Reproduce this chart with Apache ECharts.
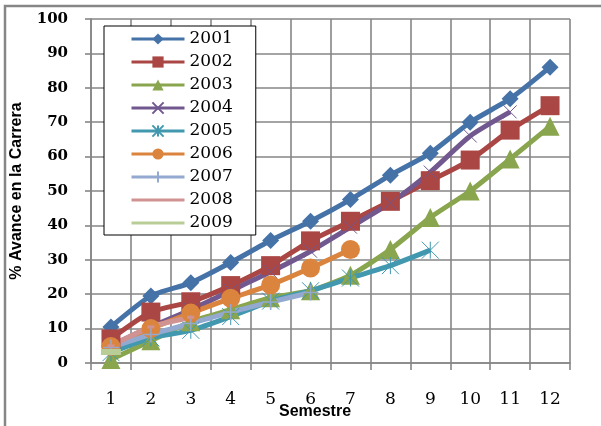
<!DOCTYPE html>
<html>
<head>
<meta charset="utf-8">
<script src="https://cdn.jsdelivr.net/npm/echarts@6/dist/echarts.min.js"></script>
<style>
  html, body { margin: 0; padding: 0; background: #fff; }
  #chart { width: 601px; height: 426px; }
</style>
</head>
<body>
<div id="chart"></div>
<script>
// Semesters on the x axis
const semestres = ['1', '2', '3', '4', '5', '6', '7', '8', '9', '10', '11', '12'];

// Cumulative career progress (%) per cohort
const avance2001 = [10.5, 19.5, 23.3, 29.2, 35.6, 41.2, 47.5, 54.6, 61, 70, 76.8, 86];
const avance2002 = [7, 14.8, 17.8, 22.5, 28.3, 35.5, 41.2, 47, 53, 59, 67.7, 74.8];
const avance2003 = [1, 6.5, 12, 15.5, 19, 21, 25.5, 33, 42.3, 50, 59.3, 68.8];
const avance2004 = [5, 10.5, 15.5, 21, 26.5, 32.5, 39.5, 46.5, 55.5, 66, 73];
const avance2005 = [3, 7.3, 9.5, 13.5, 18, 21, 24.7, 28.3, 32.8];
const avance2006 = [4.8, 10, 14.5, 18.8, 22.7, 27.6, 33];
const avance2007 = [4.5, 8.3, 11.5, 14.8, 17.7, 20.5];
const avance2008 = [5, 10.5, 13.3];
const avance2009 = [3.2];

const cohortes = ['2001', '2002', '2003', '2004', '2005', '2006', '2007', '2008', '2009'];
const valores = [avance2001, avance2002, avance2003, avance2004, avance2005,
                 avance2006, avance2007, avance2008, avance2009];

const colores = ['#4572A7', '#AA4643', '#89A54E', '#71588F', '#4198AF',
                 '#DB843D', '#93A9CF', '#D19392', '#B9CD96'];

// marker shape, size and stroke for each cohort
const marcadores = [
  { symbol: 'diamond', size: 17, border: 0 },
  { symbol: 'rect', size: 19, border: 0 },
  { symbol: 'triangle', size: 19, border: 0 },
  { symbol: 'path://M0,0L10,10M10,0L0,10', size: 13, border: 1 },
  { symbol: 'path://M5,0L5,10M0,0L10,10M10,0L0,10', size: 17, border: 1 },
  { symbol: 'circle', size: 19, border: 0 },
  { symbol: 'path://M5,0L5,10M0,5L10,5', size: 16, border: 1.5 },
  { symbol: 'rect', size: [7, 3], border: 0 },
  { symbol: 'rect', size: [20, 6], border: 0 }
];

// cohorts whose legend entry shows only the line
const leyendaSoloLinea = ['2008', '2009'];

const series = cohortes.map((name, i) => ({
  name: name,
  type: 'line',
  data: valores[i],
  smooth: 0.2,
  symbol: marcadores[i].symbol,
  symbolSize: marcadores[i].size,
  showAllSymbol: true,
  color: colores[i],
  lineStyle: { width: 5, color: colores[i] },
  itemStyle: {
    color: colores[i],
    borderColor: colores[i],
    borderWidth: marcadores[i].border
  },
  emphasis: { disabled: true }
}));

const chart = echarts.init(document.getElementById('chart'), null, { renderer: 'canvas' });

const grisEje = '#868686';

chart.setOption({
  animation: false,
  backgroundColor: '#ffffff',
  grid: { left: 91, right: 31, top: 19, bottom: 63, containLabel: false },
  legend: {
    data: cohortes.map((n) => leyendaSoloLinea.includes(n)
      ? { name: n, itemStyle: { color: 'transparent', borderWidth: 0 } }
      : { name: n }),
    orient: 'vertical',
    left: 104,
    top: 26,
    padding: [4, 23, 3, 26],
    itemGap: 5,
    itemWidth: 53,
    itemHeight: 14,
    lineStyle: { width: 3 },
    backgroundColor: '#ffffff',
    borderColor: '#000000',
    borderWidth: 1,
    textStyle: { fontFamily: 'DejaVu Serif', fontSize: 17, lineHeight: 18, color: '#000' },
    selectedMode: false
  },
  xAxis: {
    type: 'category',
    data: semestres,
    boundaryGap: true,
    axisLine: { lineStyle: { color: grisEje, width: 1.6 } },
    axisTick: { show: true, length: 7, lineStyle: { color: grisEje, width: 1.6 } },
    splitLine: { show: true, lineStyle: { color: grisEje, width: 1.6 } },
    axisLabel: { margin: 28, fontFamily: 'DejaVu Serif', fontSize: 17, color: '#000' }
  },
  yAxis: {
    type: 'value',
    min: 0,
    max: 100,
    interval: 10,
    name: '% Avance en la Carrera',
    nameLocation: 'middle',
    nameGap: 66,
    nameTextStyle: { fontFamily: 'Liberation Sans', fontWeight: 'bold', fontSize: 16, color: '#000' },
    axisLine: { show: true, lineStyle: { color: grisEje, width: 1.6 } },
    axisTick: { show: true, length: 6, lineStyle: { color: grisEje, width: 1.6 } },
    splitLine: { show: true, lineStyle: { color: grisEje, width: 1.6 } },
    axisLabel: { margin: 23, fontFamily: 'DejaVu Serif', fontWeight: 'bold', fontSize: 15, color: '#000' }
  },
  graphic: [
    {
      type: 'rect',
      shape: { x: 5, y: 6, width: 610, height: 430 },
      style: { fill: 'none', stroke: grisEje, lineWidth: 2.5 },
      silent: true
    },
    {
      type: 'text',
      left: 279,
      top: 404,
      style: { text: 'Semestre', font: 'bold 16px "Liberation Sans"', fill: '#000' },
      silent: true
    }
  ],
  series: series
});
</script>
</body>
</html>
